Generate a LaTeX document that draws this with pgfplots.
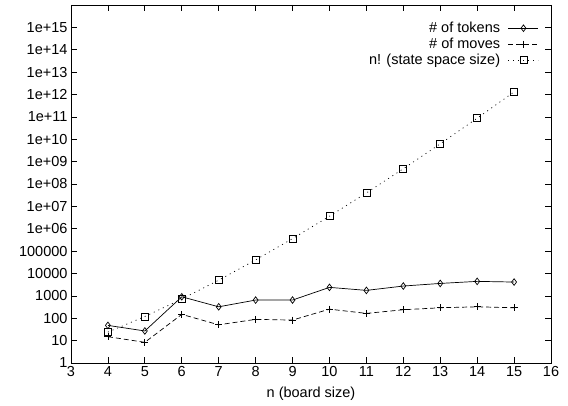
\documentclass[border=0pt]{standalone}
\usepackage{pgfplots}
\pgfplotsset{compat=1.18}
\usepackage{fontspec}
\setmainfont{Liberation Sans}
\begin{document}
\begin{tikzpicture}
\begin{axis}[
  scale only axis,
  width=480pt, height=358pt,
  at={(0,0)}, anchor=south west,
  xmin=3, xmax=16,
  ymode=log, ymin=1, ymax=1e16,
  xtick={3,4,...,16},
  ytick={1,10,100,1000,10000,100000,1e6,1e7,1e8,1e9,1e10,1e11,1e12,1e13,1e14,1e15},
  yticklabels={1,10,100,1000,10000,100000,1e+06,1e+07,1e+08,1e+09,1e+10,1e+11,1e+12,1e+13,1e+14,1e+15},
  yminorticks=false,
  xminorticks=false,
  major tick length=6pt,
  tick style={black, line width=0.7pt},
  axis line style={line width=0.8pt},
  /pgf/number format/assume math mode=true,
  tick label style={font=\fontsize{14.5}{16}\selectfont},
  label style={font=\fontsize{14.5}{16}\selectfont},
  xlabel={n (board size)},
  xlabel style={yshift=-3pt},
  legend style={draw=none, fill=none, font=\fontsize{14.5}{16}\selectfont,
    at={(1,1)}, anchor=north east, xshift=-10pt, yshift=-13pt,
    row sep=0pt, column sep=6pt, inner sep=2pt},
  legend cell align=right,
  legend plot pos=right,
  legend image code/.code={\draw[mark repeat=2,mark phase=2,#1] plot coordinates {(0pt,0pt) (15pt,0pt) (30pt,0pt)};},
]
\addplot[black, line width=0.7pt, mark=diamond, mark size=3.3pt, mark options={solid}]
coordinates {(4,48) (5,27) (6,910) (7,325) (8,650) (9,650) (10,2400) (11,1760) (12,2750) (13,3600) (14,4450) (15,4150)};
\addlegendentry{\# of tokens}
\addplot[black, line width=0.7pt, dash pattern=on 5pt off 3pt, mark=+, mark size=3.5pt, mark options={solid}]
coordinates {(4,15) (5,8.4) (6,149) (7,51) (8,89) (9,83) (10,255) (11,165) (12,240) (13,294) (14,325) (15,294)};
\addlegendentry{\# of moves}
\addplot[black, line width=0.7pt, dash pattern=on 1pt off 4pt, mark=square, mark size=3.5pt, mark options={solid}]
coordinates {(4,24) (5,120) (6,720) (7,5040) (8,40320) (9,362880) (10,3628800) (11,39916800) (12,479001600) (13,6227020800) (14,87178291200) (15,1307674368000)};
\addlegendentry{n! (state space size)}
\end{axis}
\path (-71pt,-42pt) rectangle (497pt,363pt);
\end{tikzpicture}
\end{document}
